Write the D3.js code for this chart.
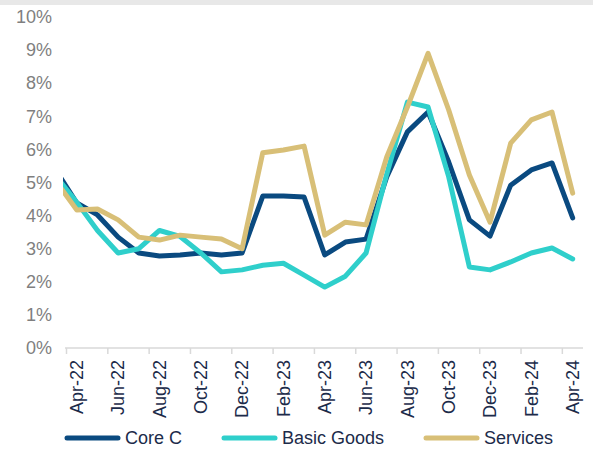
<!DOCTYPE html>
<html>
<head>
<meta charset="utf-8">
<script src="https://cdn.jsdelivr.net/npm/d3@7"></script>
<style>
  html, body { margin: 0; padding: 0; background: #ffffff; }
  svg { display: block; }
</style>
</head>
<body>
<svg id="chart" width="593" height="450"></svg>
<script>
// Months (Mar-22 lies just outside the plot and is clipped, as in the reference)
const months = ["Mar-22","Apr-22","May-22","Jun-22","Jul-22","Aug-22","Sep-22","Oct-22","Nov-22","Dec-22",
  "Jan-23","Feb-23","Mar-23","Apr-23","May-23","Jun-23","Jul-23","Aug-23","Sep-23","Oct-23","Nov-23","Dec-23",
  "Jan-24","Feb-24","Mar-24","Apr-24"];
const coreC = [5.36, 4.38, 4.02, 3.35, 2.87, 2.78, 2.81, 2.87, 2.81, 2.87,
  4.59, 4.59, 4.56, 2.81, 3.20, 3.29, 5.17, 6.53, 7.13, 5.62, 3.87, 3.38,
  4.92, 5.38, 5.59, 3.93];
const basicGoods = [5.18, 4.40, 3.55, 2.87, 3.00, 3.55, 3.37, 2.87, 2.30, 2.36,
  2.50, 2.56, 2.20, 1.84, 2.17, 2.87, 5.25, 7.43, 7.28, 5.17, 2.45, 2.36,
  2.60, 2.87, 3.02, 2.69];
const services = [5.03, 4.17, 4.20, 3.87, 3.35, 3.26, 3.41, 3.35, 3.29, 3.00,
  5.90, 5.98, 6.10, 3.41, 3.80, 3.72, 5.77, 7.28, 8.90, 7.19, 5.23, 3.80,
  6.19, 6.89, 7.13, 4.68];
const tickLabels = ["Apr-22","Jun-22","Aug-22","Oct-22","Dec-22","Feb-23","Apr-23","Jun-23","Aug-23","Oct-23","Dec-23","Feb-24","Apr-24"];
const yTicks = [0,1,2,3,4,5,6,7,8,9,10];
const seriesNames = ["Core C","Basic Goods","Services"];
const seriesColors = ["#0a4a80","#2fcfcb","#d8bf77"];

const svg = d3.select("#chart");

// top grey band
svg.append("rect").attr("x",0).attr("y",0).attr("width",593).attr("height",5).attr("fill","#e8e8e8");

// index: Apr-22 = 1 in months array
const x = d3.scaleLinear().domain([0.5, 25.5]).range([66.5, 583]);
const y = d3.scaleLinear().domain([0, 10]).range([348, 17]);

svg.append("defs").append("clipPath").attr("id","plotclip")
  .append("rect").attr("x",63).attr("y",0).attr("width",530).attr("height",450);

// y axis labels
const yAxis = d3.axisLeft(y).tickValues(yTicks).tickFormat(d => d + "%").tickSize(0).tickPadding(0);
const yg = svg.append("g").attr("transform","translate(52,0)").call(yAxis);
yg.select(".domain").remove();
yg.selectAll("text").attr("fill","#7f7f7f").style("font-family","'Liberation Sans', Arial, sans-serif").style("font-size","18px");

// x axis line with ticks at category boundaries every 2 months
const tickPos = d3.range(0.5, 25, 2);
svg.append("line").attr("x1",65).attr("x2",583).attr("y1",348).attr("y2",348)
  .attr("stroke","#d9d9d9").attr("stroke-width",1.5);
svg.selectAll(".xtick").data(tickPos).enter().append("line")
  .attr("x1", d => x(d)).attr("x2", d => x(d)).attr("y1",348).attr("y2",354)
  .attr("stroke","#d9d9d9").attr("stroke-width",1.5);

// x labels
svg.selectAll(".xlab").data(tickLabels).enter().append("text")
  .attr("transform", d => `translate(${x(months.indexOf(d))},360) rotate(-90)`)
  .attr("text-anchor","end").attr("dy","0.35em")
  .attr("fill","#1c2b4a")
  .style("font-family","'Liberation Sans', Arial, sans-serif").style("font-size","18px")
  .text(d => d);

// lines
const line = d3.line().x((d,i) => x(i)).y(d => y(d));
const allSeries = [coreC, basicGoods, services];
const lg = svg.append("g").attr("clip-path","url(#plotclip)");
allSeries.forEach((s, k) => {
  lg.append("path").datum(s).attr("d", line)
    .attr("fill","none").attr("stroke", seriesColors[k]).attr("stroke-width",5)
    .attr("stroke-linejoin","round").attr("stroke-linecap","round");
});

// legend
const legendX = [65, 222, 424];
seriesNames.forEach((name, k) => {
  const g = svg.append("g").attr("transform", `translate(${legendX[k]},438)`);
  g.append("line").attr("x1",2).attr("x2",53).attr("y1",0).attr("y2",0)
    .attr("stroke", seriesColors[k]).attr("stroke-width",5).attr("stroke-linecap","round");
  g.append("text").attr("x",60).attr("y",0).attr("dy","0.35em")
    .attr("fill","#1c2b4a")
    .style("font-family","'Liberation Sans', Arial, sans-serif").style("font-size","18px")
    .text(name);
});
</script>
</body>
</html>
